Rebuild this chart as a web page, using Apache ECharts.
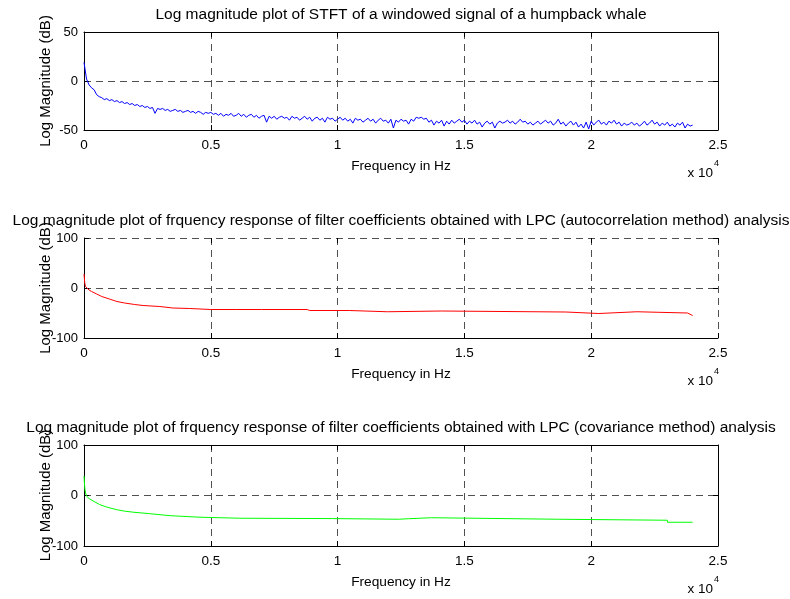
<!DOCTYPE html>
<html><head><meta charset="utf-8">
<script src="https://cdn.jsdelivr.net/npm/echarts@6/dist/echarts.min.js"></script>
<style>html,body{margin:0;padding:0;background:#fff}#c{width:790px;height:599px}</style>
</head><body><div id="c"></div>
<script>
const xTickLabels = ['0','0.5','1','1.5','2','2.5'];
const titles = [
  'Log magnitude plot of STFT of a windowed signal of a humpback whale',
  'Log magnitude plot of frquency response of filter coefficients obtained with LPC (autocorrelation method) analysis',
  'Log magnitude plot of frquency response of filter coefficients obtained with LPC (covariance method) analysis'
];
const xName = 'Frequency in Hz';
const yName = 'Log Magnitude (dB)';

// STFT magnitude (dB), sampled every 100 Hz from 0 Hz
const stftStepHz = 100;
const stftDb = [
 19,2,-4,-7,-9,-14,-16,-17,-19,-18,
 -20,-19,-21,-20,-22,-21,-23,-22,-24,-23,
 -25,-24,-26,-25,-27,-26,-28,-27,-33,-28,
 -29,-28,-30,-29,-31,-30,-29,-31,-30,-32,
 -31,-30,-32,-31,-33,-31,-32,-34,-32,-33,
 -32,-34,-33,-35,-33,-36,-34,-35,-33,-36,
 -35,-33,-36,-34,-37,-35,-34,-37,-35,-38,
 -36,-35,-42,-36,-38,-36,-39,-37,-36,-38,
 -37,-40,-36,-38,-37,-40,-38,-36,-39,-37,
 -41,-38,-37,-40,-38,-42,-37,-39,-38,-41,
 -39,-37,-40,-38,-41,-39,-43,-38,-40,-39,
 -42,-40,-38,-41,-39,-43,-40,-38,-41,-40,
 -43,-39,-48,-40,-42,-39,-41,-40,-44,-39,
 -41,-37,-38,-37,-39,-38,-42,-40,-45,-41,
 -43,-40,-46,-41,-44,-40,-43,-41,-39,-42,
 -40,-44,-41,-43,-40,-44,-42,-47,-43,-41,
 -44,-42,-48,-43,-41,-43,-42,-40,-43,-41,
 -44,-42,-39,-42,-41,-44,-42,-45,-43,-41,
 -44,-42,-40,-43,-41,-45,-43,-39,-44,-42,
 -46,-43,-41,-45,-42,-47,-44,-48,-42,-49,
 -41,-45,-42,-40,-44,-42,-45,-41,-43,-40,
 -44,-42,-46,-43,-45,-44,-42,-45,-43,-46,
 -44,-41,-45,-43,-40,-44,-42,-46,-43,-45,
 -42,-46,-44,-47,-43,-45,-42,-48,-44,-46,
 -45
];

// LPC autocorrelation method frequency response
const lpcAutoHz = [0,30,60,100,200,300,500,700,1000,1300,1600,2000,2330,2340,2990,3000,3500,4170,4180,5000,6000,7000,8800,8900,10460,10470,11960,11970,14090,14100,19000,19010,20300,20310,21800,21810,23800,24000];
const lpcAutoDb = [28,10,3,0,-4,-7,-12,-17,-22,-27,-30,-33,-35,-37,-37,-40,-40,-41,-43,-43,-43,-43,-43,-45,-45,-47.5,-47.5,-46,-46,-48,-48,-51,-51,-47.5,-47.5,-50,-50,-55];

// LPC covariance method frequency response
const lpcCovHz = [0,30,60,110,200,400,620,900,1280,1600,1930,2590,3400,4570,6140,9800,9810,12400,12410,12800,12810,13700,13710,18700,18710,23000,23010,24000];
const lpcCovDb = [39,15,5,-2,-6,-12,-18,-23,-28,-31,-33,-36,-40,-43,-45,-45.7,-47,-47,-46,-46,-44,-44,-47,-47,-49,-49,-53,-53];

const FONT = "'Liberation Sans', Arial, Helvetica, sans-serif";
const stftData = stftDb.map((v, i) => [i * stftStepHz, v]);
const autoData = lpcAutoHz.map((f, i) => [f, lpcAutoDb[i]]);
const covData = lpcCovHz.map((f, i) => [f, lpcCovDb[i]]);

const panels = [
  {top: 32, height: 98, yMin: -50, yMax: 50, yInt: 50, data: stftData, color: '#0000ff', box: true},
  {top: 238, height: 100, yMin: -100, yMax: 100, yInt: 100, data: autoData, color: '#ff0000', box: false},
  {top: 445, height: 101, yMin: -100, yMax: 100, yInt: 100, data: covData, color: '#00ff00', box: true}
];
const LEFT = 84, WIDTH = 634;
const dash = {color: '#505050', type: [7, 5], width: 1};
const grids = [], xAxes = [], yAxes = [], series = [], graphics = [];
panels.forEach((p, g) => {
  grids.push({left: LEFT, top: p.top, width: WIDTH, height: p.height, show: false});
  const tick = {show: true, inside: true, length: 5, lineStyle: {color: '#000'}};
  xAxes.push({
    gridIndex: g, type: 'value', position: 'bottom', min: 0, max: 25000, interval: 5000,
    axisLine: {show: true, onZero: false, lineStyle: {color: '#000', width: 1}},
    axisTick: tick,
    axisLabel: {show: true, margin: 8, color: '#000', fontSize: 13.5, fontFamily: FONT,
      formatter: v => xTickLabels[Math.round(v / 5000)]},
    splitLine: {show: true, showMinLine: false, showMaxLine: !p.box, lineStyle: dash},
    name: xName, nameLocation: 'middle', nameGap: 29, nameMoveOverlap: false,
    nameTextStyle: {color: '#000', fontSize: 13.7, fontFamily: FONT}
  });
  xAxes.push({
    gridIndex: g, type: 'value', position: 'top', min: 0, max: 25000, interval: 5000,
    axisLine: {show: p.box, onZero: false, lineStyle: {color: '#000', width: 1}},
    axisTick: tick, axisLabel: {show: false}, splitLine: {show: false}
  });
  yAxes.push({
    gridIndex: g, type: 'value', position: 'left', min: p.yMin, max: p.yMax, interval: p.yInt,
    axisLine: {show: true, onZero: false, lineStyle: {color: '#000', width: 1}},
    axisTick: tick,
    axisLabel: {show: true, margin: 6, color: '#000', fontSize: 13, fontFamily: FONT},
    splitLine: {show: true, showMinLine: false, showMaxLine: !p.box, lineStyle: dash},
    name: yName, nameLocation: 'middle', nameGap: 31, nameMoveOverlap: false,
    nameTextStyle: {color: '#000', fontSize: 15, fontFamily: FONT}
  });
  yAxes.push({
    gridIndex: g, type: 'value', position: 'right', min: p.yMin, max: p.yMax, interval: p.yInt,
    axisLine: {show: p.box, onZero: false, lineStyle: {color: '#000', width: 1}},
    axisTick: tick, axisLabel: {show: false}, splitLine: {show: false}
  });
  series.push({
    type: 'line', xAxisIndex: 2 * g, yAxisIndex: 2 * g, data: p.data,
    showSymbol: false, symbol: 'none', lineStyle: {color: p.color, width: 1},
    itemStyle: {color: p.color}, animation: false, z: 5
  });
  graphics.push({type: 'text', x: 401, y: p.top - 17, style: {text: titles[g], align: 'center',
    verticalAlign: 'middle', fill: '#000', font: '15.5px ' + FONT}, z: 10});
  graphics.push({type: 'text', x: 713, y: p.top + p.height + 43, style: {text: 'x 10', align: 'right',
    verticalAlign: 'middle', fill: '#000', font: '13.5px ' + FONT}});
  graphics.push({type: 'text', x: 714, y: p.top + p.height + 34, style: {text: '4', align: 'left',
    verticalAlign: 'middle', fill: '#000', font: '9px ' + FONT}});
});

const chart = echarts.init(document.getElementById('c'), null, {renderer: 'canvas'});
chart.setOption({
  backgroundColor: '#fff',
  animation: false,
  grid: grids, xAxis: xAxes, yAxis: yAxes, series: series, graphic: graphics
});
</script>
</body></html>
